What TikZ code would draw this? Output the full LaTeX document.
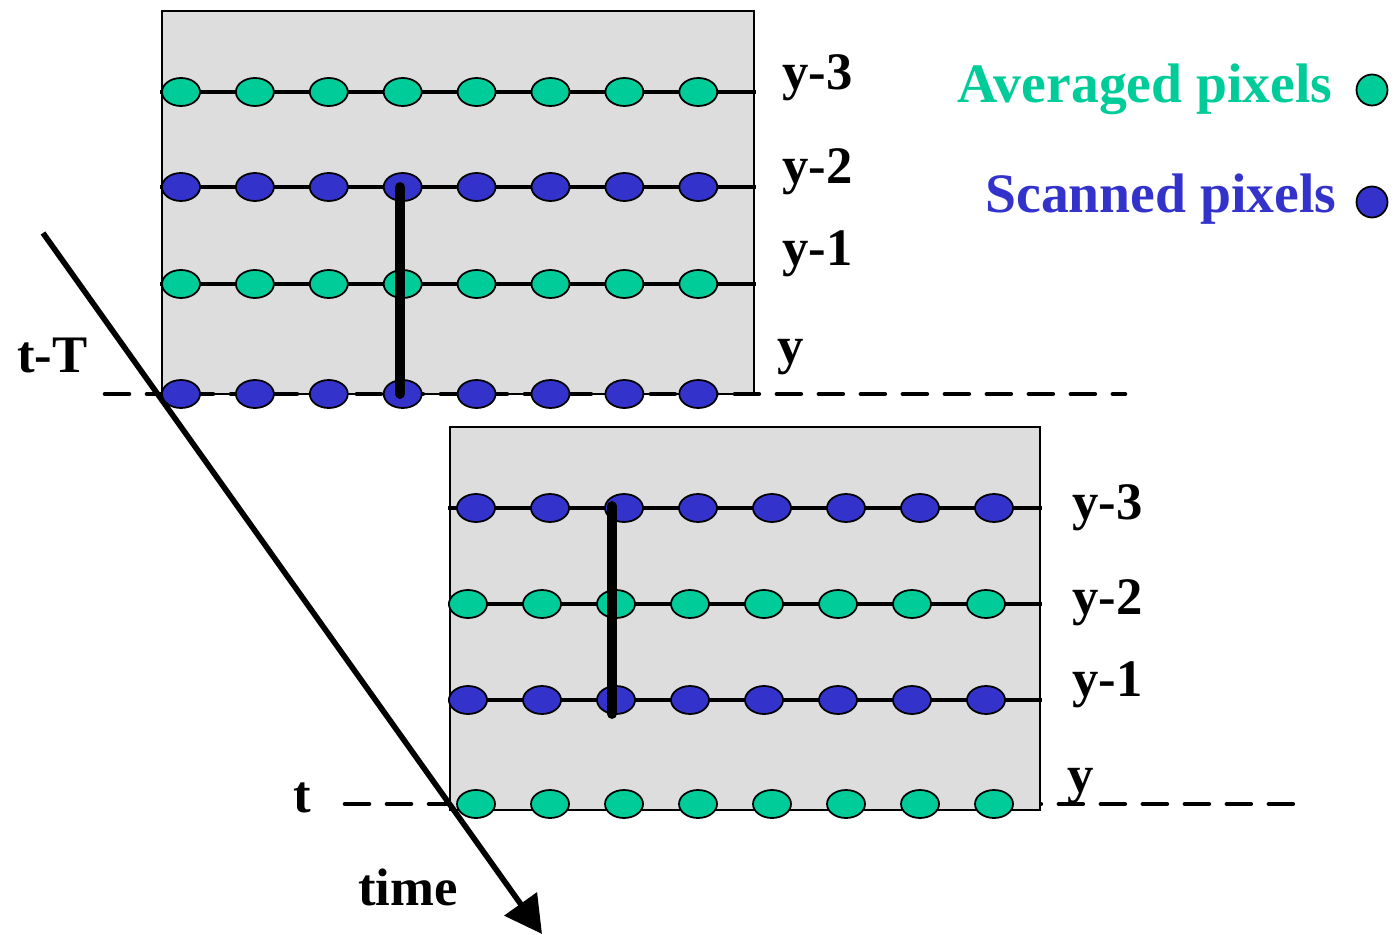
\documentclass[tikz,border=0pt]{standalone}
\usepackage{fontspec}
\setmainfont{Liberation Serif}
\usetikzlibrary{arrows.meta,positioning,shapes.geometric}
\definecolor{avggreen}{HTML}{00CC99}
\definecolor{scanblue}{HTML}{3333CC}
\definecolor{framegray}{HTML}{DDDDDD}

\begin{document}
\begin{tikzpicture}[
  x=0.02cm,y=-0.02cm,
  font=\fontsize{30}{36}\selectfont\bfseries,
  frame/.style={draw,fill=framegray,line width=0.8pt},
  row/.style={line width=2.8pt},
  pix/.style={ellipse,draw,line width=1pt,minimum width=0.76cm,minimum height=0.56cm,inner sep=0pt},
  legdot/.style={circle,draw,line width=1pt,minimum size=0.62cm,inner sep=0pt},
  legtext/.style={anchor=base east,inner sep=0pt,font=\fontsize{31.7}{38}\selectfont\bfseries},
  level/.style={line width=2.6pt,line cap=round,dash pattern=on 0.48cm off 0.36cm},
  bar/.style={line width=5.6pt,line cap=round},
  lbl/.style={anchor=base west,inner sep=0pt},
  arr/.style={-{Triangle[length=0.74cm,width=0.78cm]},line width=3.2pt}
]
\useasboundingbox (0,0) rectangle (1396,935);

% lower time level runs behind the second frame
\coordinate (lv2w) at (345,804);
\coordinate (lv2e) at (1295,804);
\draw[level] (lv2w) -- (lv2e);

% the two frames
\draw[frame] (162,11) rectangle (754,394);
\draw[frame] (450,427) rectangle (1040,810);

\coordinate (lv1w) at (105,394);
\coordinate (lv1e) at (1125,394);
\draw[level] (lv1w) -- (lv1e);

% scan lines
\foreach \r/\yy in {1/92,2/187,3/284}{
  \coordinate (ra\r w) at (160,\yy);
  \coordinate (ra\r e) at (756,\yy);
  \draw[row] (ra\r w) -- (ra\r e);
}
\foreach \r/\yy in {1/508,2/604,3/700}{
  \coordinate (rb\r w) at (448,\yy);
  \coordinate (rb\r e) at (1042,\yy);
  \draw[row] (rb\r w) -- (rb\r e);
}

% time axis
\coordinate (tstart) at (43,233);
\coordinate (tend) at (542,934);
\draw[arr] (tstart) -- (tend);

% pixels, frame at t-T
\foreach \r/\yy/\fc in {1/92/avggreen,2/187/scanblue,3/284/avggreen,4/394/scanblue}
  \foreach \c in {1,...,8}
    \node[pix,fill=\fc] (a\r-\c) at ({181+73.9*(\c-1)},\yy) {};

% pixels, frame at t
\foreach \r/\yy/\xs/\fc in {1/508/476/scanblue,2/604/468/avggreen,3/700/468/scanblue,4/804/476/avggreen}
  \foreach \c in {1,...,8}
    \node[pix,fill=\fc] (b\r-\c) at ({\xs+74*(\c-1)},\yy) {};

% vertical interpolation bars
\coordinate (bara) at (400,187);
\coordinate (barb) at (400,394);
\draw[bar] (bara) -- (barb);
\coordinate (barc) at (612,506);
\coordinate (bard) at (612,714);
\draw[bar] (barc) -- (bard);

% line labels
\node[lbl] (la3) at (782,90) {y-3};
\node[lbl] (la2) at (782,184) {y-2};
\node[lbl] (la1) at (782,266) {y-1};
\node[lbl] (la0) at (777,364) {y};
\node[lbl] (lb3) at (1072,520) {y-3};
\node[lbl] (lb2) at (1072,614) {y-2};
\node[lbl] (lb1) at (1072,696) {y-1};
\node[lbl] (lb0) at (1067,792) {y};

\node[lbl] (ttprev) at (17,373) {t-T};
\node[lbl] (tnow) at (293,812) {t};
\node[lbl] (tname) at (358,905) {time};

% legend
\node[legtext,text=avggreen] (legavg) at (1333,103) {Averaged pixels};
\node[legdot,fill=avggreen] (dotavg) at (1372,90) {};
\node[legtext,text=scanblue] (legscan) at (1337,213) {Scanned pixels};
\node[legdot,fill=scanblue] (dotscan) at (1372,202) {};
\end{tikzpicture}
\end{document}
